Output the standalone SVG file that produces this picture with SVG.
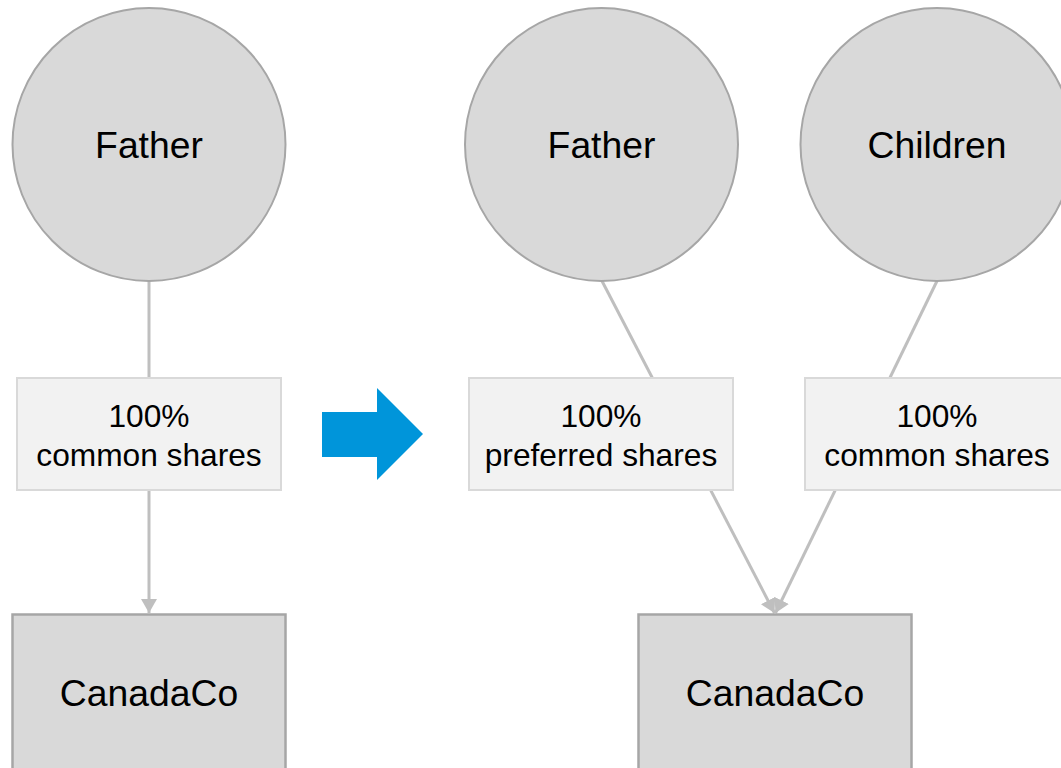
<svg xmlns="http://www.w3.org/2000/svg" width="1061" height="768" viewBox="0 0 1061 768">
  <style>
    .person { fill: #d9d9d9; stroke: #a6a6a6; stroke-width: 2; }
    .company { fill: #d9d9d9; stroke: #a6a6a6; stroke-width: 2.5; }
    .share { fill: #f2f2f2; stroke: #d9d9d9; stroke-width: 2; }
    .link { stroke: #bfbfbf; stroke-width: 3; fill: none; }
    .big { font-family: "Liberation Sans", Arial, sans-serif; font-size: 37.3px; fill: #000; text-anchor: middle; }
    .small { font-family: "Liberation Sans", Arial, sans-serif; font-size: 31.7px; fill: #000; text-anchor: middle; }
  </style>
  <defs>
    <marker id="head" markerUnits="userSpaceOnUse" viewBox="0 0 14 16" refX="14" refY="8" markerWidth="14" markerHeight="16" orient="auto">
      <path d="M0,0 L14,8 L0,16 Z" fill="#bfbfbf"/>
    </marker>
  </defs>

  <rect width="1061" height="768" fill="#ffffff"/>

  <!-- ownership lines, drawn beneath the share labels -->
  <g id="connectors">
    <line class="link" x1="149" y1="281" x2="149" y2="613" marker-end="url(#head)"/>
    <line class="link" x1="602" y1="281" x2="774.5" y2="613" marker-end="url(#head)"/>
    <line class="link" x1="937" y1="281" x2="775.5" y2="613" marker-end="url(#head)"/>
  </g>

  <!-- before -->
  <g id="father-before">
    <circle class="person" cx="149" cy="144.5" r="136.5"/>
    <text class="big" x="149" y="158">Father</text>
  </g>
  <g id="shares-before">
    <rect class="share" x="17" y="378" width="264" height="112"/>
    <text class="small" x="149" y="427">100%</text>
    <text class="small" x="149" y="465.5">common shares</text>
  </g>
  <g id="canadaco-before">
    <rect class="company" x="12.5" y="614.5" width="273" height="170"/>
    <text class="big" x="149" y="706">CanadaCo</text>
  </g>

  <!-- transition -->
  <g id="transition">
    <polygon points="322,412 377,412 377,388 423,434 377,480 377,457 322,457" fill="#0095da"/>
  </g>

  <!-- after -->
  <g id="father-after">
    <circle class="person" cx="601.5" cy="144.5" r="136.5"/>
    <text class="big" x="601.5" y="158">Father</text>
  </g>
  <g id="children">
    <circle class="person" cx="937" cy="144.5" r="136.5"/>
    <text class="big" x="937" y="158">Children</text>
  </g>
  <g id="preferred-shares">
    <rect class="share" x="469" y="378" width="264" height="112"/>
    <text class="small" x="601" y="427">100%</text>
    <text class="small" x="601" y="465.5">preferred shares</text>
  </g>
  <g id="common-shares">
    <rect class="share" x="805" y="378" width="264" height="112"/>
    <text class="small" x="937" y="427">100%</text>
    <text class="small" x="937" y="465.5">common shares</text>
  </g>
  <g id="canadaco-after">
    <rect class="company" x="638.5" y="614.5" width="273" height="170"/>
    <text class="big" x="775" y="706">CanadaCo</text>
  </g>
</svg>
